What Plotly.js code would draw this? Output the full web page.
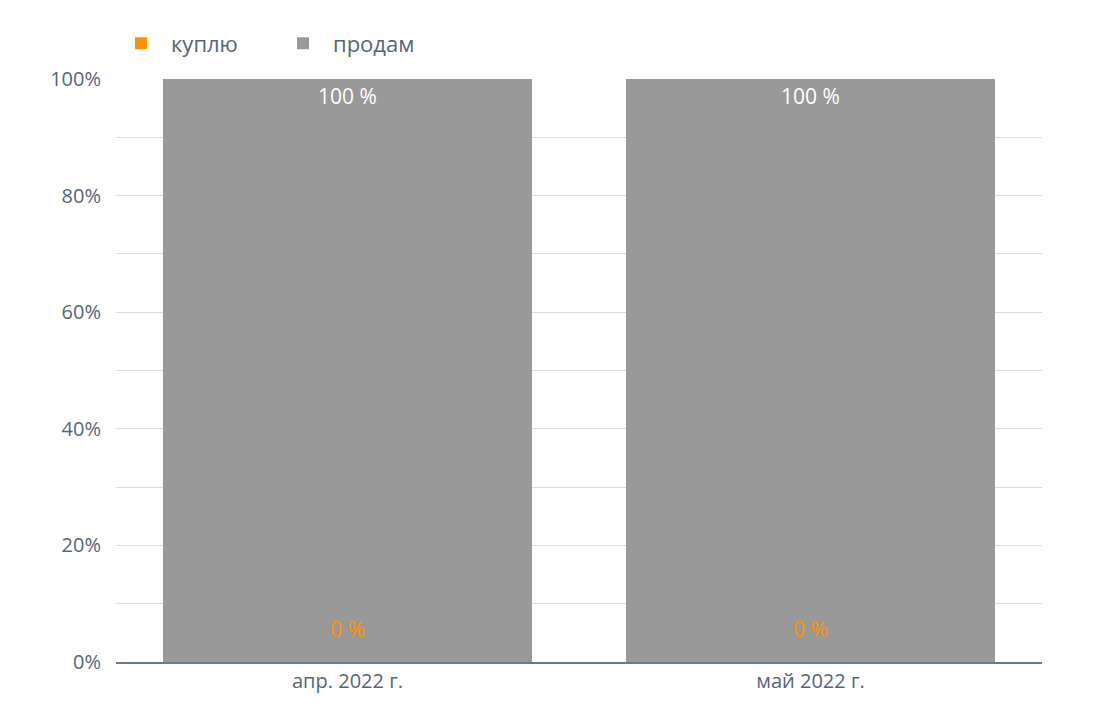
<!DOCTYPE html>
<html>
<head>
<meta charset="utf-8">
<script src="https://cdn.plot.ly/plotly-3.0.1.min.js"></script>
<style>
  html, body { margin: 0; padding: 0; background: #fff; }
  #chart { width: 1110px; height: 714px; }
</style>
</head>
<body>
<div id="chart"></div>
<script>
// months on the x axis
const months = ['апр. 2022 г.', 'май 2022 г.'];
// share of answers, percent
const buyValues = [0, 0];
const sellValues = [100, 100];

const buyColor = '#ff9000';
const sellColor = '#999999';
const textColor = '#56657a';
const fontFamily = '"Open Sans", "Noto Sans", sans-serif';

const data = [
  {
    x: months,
    y: buyValues,
    name: 'куплю',
    type: 'bar',
    marker: { color: buyColor },
    hoverinfo: 'none'
  },
  {
    x: months,
    y: sellValues,
    name: 'продам',
    type: 'bar',
    marker: { color: sellColor },
    text: sellValues.map(v => v + ' %'),
    textposition: 'inside',
    insidetextanchor: 'end',
    textfont: { color: '#ffffff', size: 21, family: fontFamily },
    hoverinfo: 'none'
  }
];

// the zero labels sit low inside the column
const annotations = months.map((m, i) => ({
  x: m,
  y: buyValues[i],
  text: buyValues[i] + ' %',
  showarrow: false,
  yanchor: 'middle',
  yshift: 33,
  font: { color: buyColor, size: 21, family: fontFamily }
}));

const layout = {
  width: 1110,
  height: 714,
  margin: { l: 116, r: 68, t: 79, b: 52 },
  barmode: 'stack',
  bargap: 0.203,
  paper_bgcolor: '#ffffff',
  plot_bgcolor: '#ffffff',
  font: { family: fontFamily, size: 20, color: textColor },
  showlegend: true,
  legend: {
    orientation: 'h',
    x: -0.0054,
    xanchor: 'left',
    y: 1.025,
    yanchor: 'bottom',
    font: { size: 22, color: textColor },
    traceorder: 'normal',
    itemwidth: 50,
    entrywidth: 97,
    entrywidthmode: 'pixels'
  },
  xaxis: {
    type: 'category',
    showgrid: false,
    showline: true,
    linecolor: '#6b7a8e',
    linewidth: 2,
    ticks: '',
    tickfont: { size: 20, color: textColor }
  },
  yaxis: {
    range: [0, 100],
    dtick: 20,
    ticksuffix: '%',
    showgrid: true,
    gridcolor: '#dcdcdc',
    gridwidth: 1,
    zeroline: false,
    showline: false,
    ticks: '',
    ticklabelstandoff: 14,
    tickfont: { size: 20, color: textColor },
    minor: { dtick: 10, showgrid: true, gridcolor: '#dcdcdc', gridwidth: 1, ticks: '' }
  },
  annotations: annotations
};

Plotly.newPlot('chart', data, layout, { displayModeBar: false, staticPlot: true });
</script>
</body>
</html>
